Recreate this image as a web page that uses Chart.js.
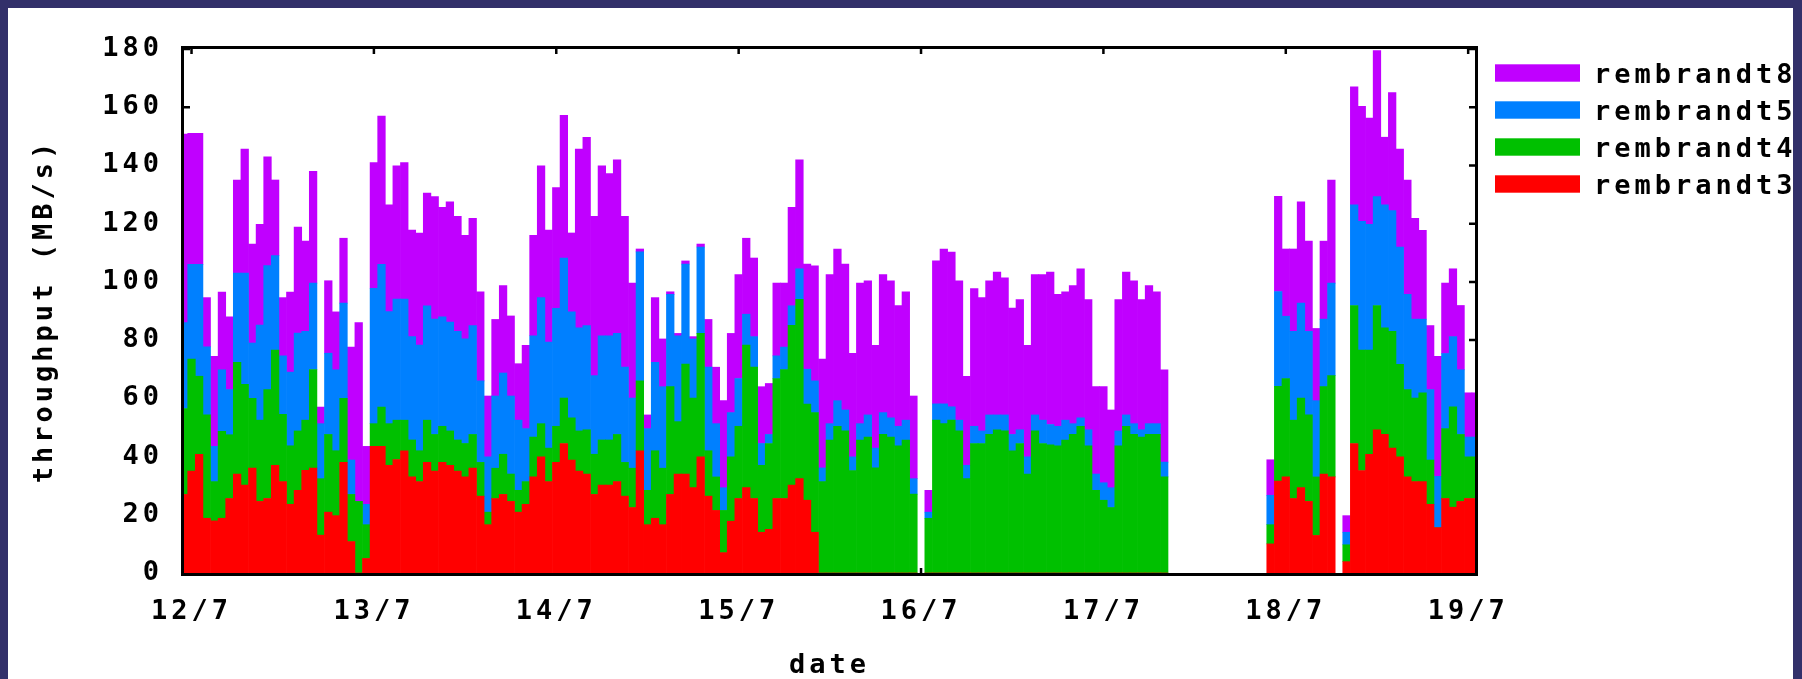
<!DOCTYPE html>
<html><head><meta charset="utf-8">
<script src="https://cdn.jsdelivr.net/npm/chart.js@4.4.1/dist/chart.umd.min.js"></script>
<style>
html,body{margin:0;padding:0;background:#32306a;width:1802px;height:679px;overflow:hidden}
#paper{position:absolute;left:8px;top:8px;width:1785px;height:671px;background:#fff}
#c{position:absolute;left:0;top:0}
</style></head><body>
<div id="paper"></div>
<canvas id="c" width="1802" height="679"></canvas>
<script>
// hour offsets from 12/7 00:00 (one bar per hour)
const hours = [-1,
 0,1,2,3,4,5,6,7,8,9,10,11,12,13,14,15,16,17,18,19,20,21,22,23,
 24,25,26,27,28,29,30,31,32,33,34,35,36,37,38,39,40,41,42,43,44,45,46,47,
 48,49,50,51,52,53,54,55,56,57,58,59,60,61,62,63,64,65,66,67,68,69,70,71,
 72,73,74,75,76,77,78,79,80,81,82,83,84,85,86,87,88,89,90,91,92,93,94,95,
 96,97,98,99,100,101,102,103,104,105,106,107,108,109,110,111,112,113,114,115,116,117,118,119,
 120,121,122,123,124,125,126,127,128,129,130,131,132,133,134,135,136,137,138,139,140,141,142,143,
 144,145,146,147,148,149,150,151,152,153,154,155,156,157,158,159,160,161,162,163,164,165,166,167,
 168,169];
const dayTicks = [0,24,48,72,96,120,144,168];
const dayLabels = ['12/7','13/7','14/7','15/7','16/7','17/7','18/7','19/7'];
const yTicks = [0,20,40,60,80,100,120,140,160,180];
const seriesNames = ['rembrandt3','rembrandt4','rembrandt5','rembrandt8'];
const seriesColors = ['#ff0000','#00c000','#0080ff','#c000ff'];
const N = null;
const rembrandt3 = [27,
 35,40.8,18.8,17.9,18.8,25.6,34,30.2,36,24.6,25.6,37,31.4,23.6,28.4,35.3,36,13,20.9,19.7,38,10.8,0,5,
 43.5,43.5,37,39,42,33,31.4,38,35,38,37,35,33,36,26.4,16.6,25.6,27,24.6,20.9,23.6,33,39.9,31.4,
 38,44.5,38.8,35,34,27,30.2,30.2,31.4,26.4,22.5,42,16.6,18.8,16.6,27,34,34,29.3,39.9,26.4,21.5,7,17.8,
 25.6,29.3,25.6,14,15,25.6,25.6,30.2,32.4,25,14,0,0,0,0,0,0,0,0,0,0,0,0,0,
 N,0,0,0,0,0,0,0,0,0,0,0,0,0,0,0,0,0,0,0,0,0,0,0,
 0,0,0,0,0,0,0,0,0,N,N,N,N,N,N,N,N,N,N,N,N,N,10,31.6,
 33,25.6,29.3,24.6,12.9,34,33,N,3.9,44.5,35.2,40.8,49.2,47.6,42.9,39.9,33,31.4,31.4,23.6,15.6,25.6,22.6,24.6,
 25.6,25.6];
const rembrandt4 = [29.5,
 38.5,26.8,35.5,13.5,29.9,21.9,38.4,34.6,24,27.9,37.4,39.6,23.1,20.1,20.4,17.2,33.9,19.4,26.7,22.3,22,16.2,24.6,11.6,
 7.8,13.5,14.3,13.5,10.5,12.7,10.6,14.5,12.6,12.4,11.8,10.7,11.5,11.6,11.6,4.3,10.4,13.8,9.4,7.5,7.8,13.7,11.4,11.5,
 12.4,15.6,14.5,13.8,15.2,13.8,15.5,15.5,16.2,11.6,13.5,24,11.8,23.2,19.4,37,18,37.8,30.8,42.4,15.6,11.5,14.5,22.1,
 24.8,49,45.1,23,29.5,41.2,44.3,54.9,61.6,33,41.1,31.4,45.7,50.4,48.8,35.2,45.7,46.7,36.1,47.6,46.7,43.7,45.7,27.1,
 N,18.8,52.5,51.3,52.5,48.8,32.4,44.5,44.5,47.6,49.2,48.8,42,44.5,34,48.8,44.5,44,43.7,45.7,47.6,50.4,43.7,28.4,
 25,22.5,43.7,50.4,47.6,46.7,47.6,47.6,33,N,N,N,N,N,N,N,N,N,N,N,N,N,6.6,32.5,
 33.8,26.9,30.8,29.7,20.1,30,34.8,N,5.8,47.4,41.4,35.8,42.7,36.6,40.1,31.8,30,28.7,30.5,15.2,0,24,34.5,23,
 14.3,14.3];
const rembrandt5 = [29.5,
 32.5,38.4,23.4,12.1,21.1,15.5,30.6,38.2,19,32.7,42.6,32.4,20.1,25.3,33.6,30.5,29.7,18.9,27.9,27.8,32.7,11.8,0,7,
 46.5,49,38.5,41.6,41.6,35.5,36.3,39.3,39.6,37.6,37.4,37.3,35.9,37.4,28,19,24.8,27.9,26.8,24.1,18.2,34.8,43.3,36.4,
 40.5,48.1,36.4,35.4,35.8,27,35.8,35.8,34.7,32.7,24.1,44.3,21.2,30.4,28,31.7,29.5,34.3,20.3,29.7,28.7,18.3,7.8,15.2,
 16.4,10.6,10.5,7.5,3.1,7.8,7.7,6.7,10.5,12,10.9,4.7,5.6,8.8,7.2,4.7,5.6,7.6,6.8,7.5,6.6,6.7,6.8,5.3,
 N,2.1,5.6,6.8,4.6,3.7,4.6,5.9,4.3,6.7,5.1,5.5,5.6,4.7,5.9,5.5,8,7,6.7,6.8,3.7,2.9,5.5,5.6,
 6,6.8,5.1,3.9,3.7,2.5,3.7,3.7,5.1,N,N,N,N,N,N,N,N,N,N,N,N,N,10.1,32.6,
 21.4,30.5,32.6,28.7,26.2,23.2,31.8,N,4.3,34.6,44.2,43.2,37.4,42.3,41.5,40.3,32.7,27.1,25.3,24.2,17.6,25.8,24.1,22.2,
 6.8,6.8];
const rembrandt8 = [64.8,
 45,45,16.9,30.9,26.7,25,32,42.6,34,34.6,37.4,26,20,27.5,36.4,31,38.4,5.7,24.9,19.9,22.3,38.8,61.4,19.9,
 43.2,51,36.7,45.8,46.9,36.6,38.5,38.7,42.1,37.6,41.3,39.5,35.6,36.8,30.6,20.9,26.3,30,27.5,19.4,28.6,34.5,45.3,38.5,
 41.5,49,27.1,61.4,64.7,54.7,58.4,55.7,59.6,51.8,39.5,1,4.7,22.2,16.4,0.9,0.8,1.1,0.8,1,16.4,19.4,29.9,27.2,
 35.7,26.1,27,19.5,17.5,25,22,33.8,37.4,36.1,39.5,37.4,51.2,52.1,50.1,35.6,48.3,46.1,35.3,47.4,47.1,41.5,44.1,28.4,
 N,7.5,49.1,53.2,53.1,47.9,30.6,47.3,45.8,46.1,49.1,47.1,43.4,44.7,38.3,48.2,50,52.4,45.3,44.1,47.4,51.2,44.7,30,
 33,26.7,45.1,49.1,49.1,44.7,47.4,45.3,31.7,N,N,N,N,N,N,N,N,N,N,N,N,N,12.2,32.7,
 23.1,28.3,34.8,31,24.8,26.8,35.4,N,5.7,40.5,39.5,36.5,50.2,23.2,40.5,33.6,39.3,34.6,30.5,22,41.2,24.2,23.3,22.1,
 15.2,15.2];

const FAMILY = "'DejaVu Sans Mono', monospace";
const SIZE = 27;
const SP = '4px';
Chart.defaults.font = {family: FAMILY, size: SIZE, weight: 'bold', lineHeight: 1};
Chart.defaults.color = '#000';

const spacing = {
  id: 'spacing',
  beforeUpdate(chart){ chart.ctx.letterSpacing = SP; },
  beforeDraw(chart){ chart.ctx.letterSpacing = SP; }
};
const frame = {
  id: 'frame',
  beforeDatasetsDraw(chart){
    const {ctx, chartArea:{left,right,top,bottom}, scales:{x,y}} = chart;
    ctx.save();
    ctx.strokeStyle = '#000'; ctx.lineWidth = 2.5;
    ctx.beginPath();
    yTicks.forEach(v => { const py = y.getPixelForValue(v);
      ctx.moveTo(left, py); ctx.lineTo(left + 6, py);
      ctx.moveTo(right - 6, py); ctx.lineTo(right, py); });
    dayTicks.forEach(v => { const px = x.getPixelForValue(v);
      ctx.moveTo(px, top); ctx.lineTo(px, top + 5);
      ctx.moveTo(px, bottom - 5); ctx.lineTo(px, bottom); });
    ctx.stroke();
    ctx.restore();
  },
  afterDatasetsDraw(chart){
    const {ctx, chartArea:{left,right,top,bottom}} = chart;
    ctx.save();
    ctx.strokeStyle = '#000'; ctx.lineWidth = 3;
    ctx.strokeRect(left - 1.5, top - 1.5, right - left + 3, bottom - top + 3);
    ctx.restore();
  },
  afterDraw(chart){
    const {ctx, chartArea} = chart;
    const ds = chart.data.datasets.slice().reverse();
    ctx.save();
    ctx.letterSpacing = SP;
    ctx.font = "bold " + SIZE + "px " + FAMILY;
    ctx.textBaseline = 'alphabetic';
    ctx.textAlign = 'left';
    const bx = chartArea.right + 20;
    ds.forEach((d, i) => {
      const yTop = 64.3 + i * 37;
      ctx.fillStyle = d.backgroundColor;
      ctx.fillRect(bx, yTop, 85, 17.4);
      ctx.fillStyle = '#000';
      ctx.fillText(d.label, bx + 99, yTop + 19);
    });
    ctx.restore();
  }
};

const seriesData = [rembrandt3, rembrandt4, rembrandt5, rembrandt8];
new Chart(document.getElementById('c'), {
  type: 'bar',
  data: {
    labels: hours,
    datasets: seriesData.map((arr, i) => ({
      label: seriesNames[i], data: arr, backgroundColor: seriesColors[i],
      borderWidth: 0, barPercentage: 1, categoryPercentage: 1
    }))
  },
  options: {
    responsive: false, animation: false, devicePixelRatio: 1,
    layout: {padding: {left: 0, right: 327, top: 49, bottom: 0}},
    plugins: {legend: {display: false}, tooltip: {enabled: false}},
    scales: {
      x: {
        type: 'linear', min: -0.99, max: 168.9, stacked: true, offset: false,
        grid: {display: false, drawTicks: false, offset: false}, border: {display: false},
        afterBuildTicks(s){ s.ticks = dayTicks.map(v => ({value: v})); },
        ticks: {autoSkip: false, maxRotation: 0, minRotation: 0, padding: 25,
          callback: (v) => { const i = dayTicks.indexOf(v); return i >= 0 ? dayLabels[i] : ''; }},
        title: {display: true, text: 'date', padding: {top: 0, bottom: 0}},
        afterFit(s){ s.height = 106; }
      },
      y: {
        min: 0, max: 180, stacked: true,
        grid: {display: false, drawTicks: false}, border: {display: false},
        afterBuildTicks(s){ s.ticks = yTicks.map(v => ({value: v})); },
        ticks: {padding: 21},
        title: {display: true, text: 'throughput (MB/s)', padding: {top: 31, bottom: 0}},
        afterFit(s){ s.width = 184; }
      }
    }
  },
  plugins: [spacing, frame]
});
</script>
</body></html>
